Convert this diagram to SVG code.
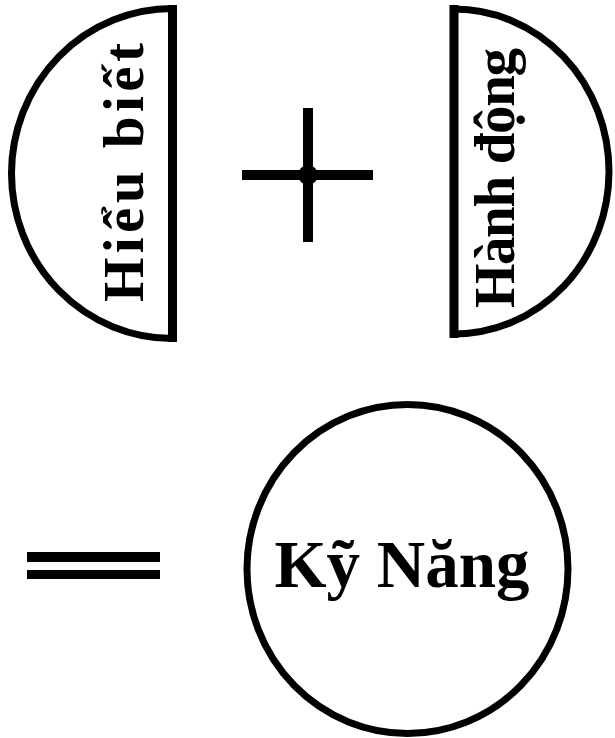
<svg xmlns="http://www.w3.org/2000/svg" width="615" height="738" viewBox="0 0 615 738">
<style>
.shape{fill:#fff;stroke:#000;stroke-width:7}
.flat{stroke:#000;stroke-width:9}
.lbl{font-family:"Liberation Serif","Times New Roman",serif;font-weight:bold;fill:#000}
.bar{fill:#000}
</style>
<rect width="615" height="738" fill="#fff"/>
<g id="hieu-biet">
<path class="shape" d="M172.5,8.5 A161,165 0 0 0 172.5,338.5 Z"/>
<line class="flat" x1="172.5" y1="5" x2="172.5" y2="342"/>
<text class="lbl" font-size="57" text-anchor="middle" transform="translate(143,172.5) rotate(-90)" textLength="259" lengthAdjust="spacing">Hiểu biết</text>
</g>
<g id="hanh-dong">
<path class="shape" d="M454,9 A155,162.5 0 0 1 454,334 Z"/>
<line class="flat" x1="454" y1="5" x2="454" y2="338"/>
<text class="lbl" font-size="57" text-anchor="middle" transform="translate(514,178) rotate(-90)" textLength="260" lengthAdjust="spacing">Hành động</text>
</g>
<g id="plus">
<rect class="bar" x="242" y="170" width="131" height="10"/>
<rect class="bar" x="303" y="108" width="10" height="134"/>
<circle class="bar" cx="308" cy="175" r="10"/>
</g>
<g id="equals">
<rect class="bar" x="27" y="552" width="133" height="10"/>
<rect class="bar" x="27" y="570" width="133" height="9"/>
</g>
<g id="ky-nang">
<ellipse class="shape" cx="407.5" cy="569" rx="160.5" ry="164.5"/>
<text class="lbl" font-size="67" x="402" y="587" text-anchor="middle">Kỹ Năng</text>
</g>
<g id="connectors"></g>
</svg>
